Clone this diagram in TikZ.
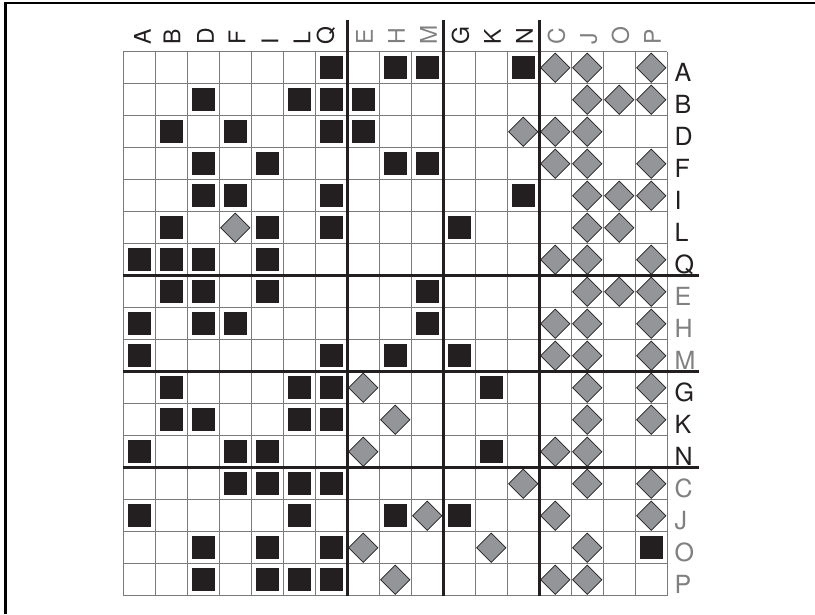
\documentclass[tikz,border=0pt]{standalone}
\usepackage{fontspec}
\setmainfont{TeX Gyre Heros}
\usetikzlibrary{shapes.geometric}
\definecolor{ink}{HTML}{231F20}
\definecolor{dmfill}{HTML}{939598}
\definecolor{gridc}{HTML}{7A7A7A}
\definecolor{lblgray}{HTML}{808080}
\tikzset{
  sq/.style={rectangle, minimum size=23pt, inner sep=0pt, fill=ink, draw=none},
  dm/.style={diamond, aspect=1, minimum size=29.5pt, inner sep=0pt, fill=dmfill, draw=ink, line width=0.7pt},
  gridline/.style={draw=gridc, line width=1pt},
  thick line/.style={draw=ink, line width=2.6pt},
  hdr/.style={rotate=90, anchor=base west, inner sep=0pt, font=\fontsize{23}{23}\selectfont},
  rowl/.style={anchor=base west, inner sep=0pt, font=\fontsize{25}{25}\selectfont},
}
\begin{document}
\begin{tikzpicture}[x=1pt,y=-1pt]
\useasboundingbox (0,0) rectangle (815,614);
\fill[white] (0,0) rectangle (815,614);
% frame (left and top edges only are visible)
\coordinate (fb) at (5.3,614);
\coordinate (fc) at (5.3,3.2);
\coordinate (fr) at (815,3.2);
\draw[draw=black, line width=2.5pt] (fb) -- (fc) -- (fr);
% grid
\foreach \i in {0,...,17} {
  \draw[gridline] ({123.3+32*\i},51.7) -- ({123.3+32*\i},595.7);
  \draw[gridline] (123.3,{51.7+32*\i}) -- (667.3,{51.7+32*\i});
}
% cell contents
\foreach \r/\sl/\dl in {
  1/{7,9,10,13}/{14,15,17},
  2/{3,6,7,8}/{15,16,17},
  3/{2,4,7,8}/{13,14,15},
  4/{3,5,9,10}/{14,15,17},
  5/{3,4,7,13}/{15,16,17},
  6/{2,5,7,11}/{4,15,16},
  7/{1,2,3,5}/{14,15,17},
  8/{2,3,5,10}/{15,16,17},
  9/{1,3,4,10}/{14,15,17},
  10/{1,7,9,11}/{14,15,17},
  11/{2,6,7,12}/{8,15,17},
  12/{2,3,6,7}/{9,15,17},
  13/{1,4,5,12}/{8,14,15},
  14/{4,5,6,7}/{13,15,17},
  15/{1,6,9,11}/{10,14,17},
  16/{3,5,7,17}/{8,12,15},
  17/{3,5,6,7}/{9,14,15}} {
  \foreach \c in \sl {
    \node[sq] (s-\r-\c) at ({107.3+32*\c},{35.7+32*\r}) {};
  }
  \foreach \c in \dl {
    \node[dm] (d-\r-\c) at ({107.3+32*\c},{35.7+32*\r}) {};
  }
}
% thick separators
\foreach \i in {7,10,13} {
  \coordinate (vt-\i) at ({123.3+32*\i},20);
  \coordinate (vb-\i) at ({123.3+32*\i},595.7);
  \draw[thick line] (vt-\i) -- (vb-\i);
  \coordinate (hl-\i) at (123.3,{51.7+32*\i});
  \coordinate (hr-\i) at (699.3,{51.7+32*\i});
  \draw[thick line] (hl-\i) -- (hr-\i);
}
% column headers
\foreach \c/\l/\col/\dx in {
  1/A/ink/3, 2/B/ink/0.5, 3/D/ink/2, 4/F/ink/1.5, 5/I/ink/2.5, 6/L/ink/2.5, 7/Q/ink/-6,
  8/E/lblgray/1, 9/H/lblgray/1, 10/M/lblgray/1,
  11/G/ink/1, 12/K/ink/1, 13/N/ink/1,
  14/C/lblgray/1, 15/J/lblgray/1, 16/O/lblgray/1, 17/P/lblgray/1} {
  \node[hdr, text=\col] (h-\c) at ({107.3+32*\c+8.5+\dx},45) {\l};
}
% row labels
\foreach \r/\l/\col in {
  1/A/ink, 2/B/ink, 3/D/ink, 4/F/ink, 5/I/ink, 6/L/ink, 7/Q/ink,
  8/E/lblgray, 9/H/lblgray, 10/M/lblgray,
  11/G/ink, 12/K/ink, 13/N/ink,
  14/C/lblgray, 15/J/lblgray, 16/O/lblgray, 17/P/lblgray} {
  \node[rowl, text=\col] (r-\r) at (674.5,{51.7+32*\r-2.3}) {\l};
}
\end{tikzpicture}
\end{document}
